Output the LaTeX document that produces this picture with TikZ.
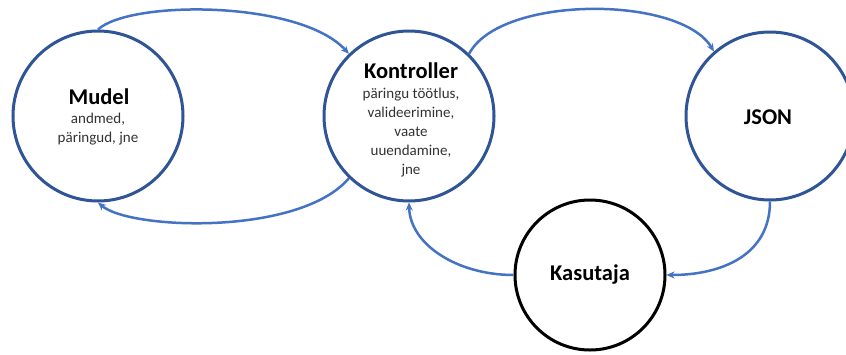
\documentclass[tikz,border=0pt]{standalone}
\usepackage{fontspec}
\setmainfont{Carlito}
\usetikzlibrary{arrows.meta}
\definecolor{ringblue}{HTML}{2F5597}
\definecolor{flowblue}{HTML}{4472C4}
\definecolor{subgray}{HTML}{333333}
\begin{document}
\begin{tikzpicture}[x=1pt,y=-1pt,
  ring/.style={circle,draw=ringblue,line width=3pt,inner sep=0pt,align=center,fill=white},
  title/.style={font=\fontsize{22.5}{24}\selectfont\bfseries},
  flow/.style={draw=flowblue,line width=2.5pt,-{Stealth[length=8pt,width=7pt]}},
  sub/.style={font=\fontsize{15}{18.8}\selectfont,text=subgray}]
  \useasboundingbox (0,0) rectangle (846,354);
  \clip (0,0) rectangle (846,354);
  \fill[white] (0,0) rectangle (846,354);

  % the four parts
  \node[ring,minimum size=170pt] (mudel) at (98,116) {};
  \node[title] (mudelT) at (99,97) {Mudel};
  \node[sub,align=center,anchor=north] (mudelS) at (98,110) {andmed,\\päringud, jne};

  \node[ring,minimum size=170pt] (kontroller) at (409,116) {};
  \node[title] (kontrollerT) at (411,71) {Kontroller};
  \node[sub,align=center,anchor=north] (kontrollerS) at (411,85) {päringu töötlus,\\valideerimine,\\vaate\\uuendamine,\\jne};

  \node[ring,minimum size=168pt] (json) at (770,116) {};
  \node[title] (jsonT) at (768,117) {JSON};

  \node[ring,draw=black,minimum size=150pt] (kasutaja) at (590,275) {};
  \node[title] (kasutajaT) at (590,275) {Kasutaja};

  % request and data flow
  \draw[flow] (mudel.north) .. controls (130,0) and (300,0) .. (kontroller.134);
  \draw[flow] (kontroller.226) .. controls (300,236) and (130,230) .. (mudel.south);
  \draw[flow] (kontroller.46) .. controls (500,-5) and (680,-5) .. (json.131);
  \draw[flow] (json.south) .. controls (770,255) and (722,275) .. (kasutaja.east);
  \draw[flow] (kasutaja.west) .. controls (458,275) and (410,245) .. (kontroller.south);
\end{tikzpicture}
\end{document}
